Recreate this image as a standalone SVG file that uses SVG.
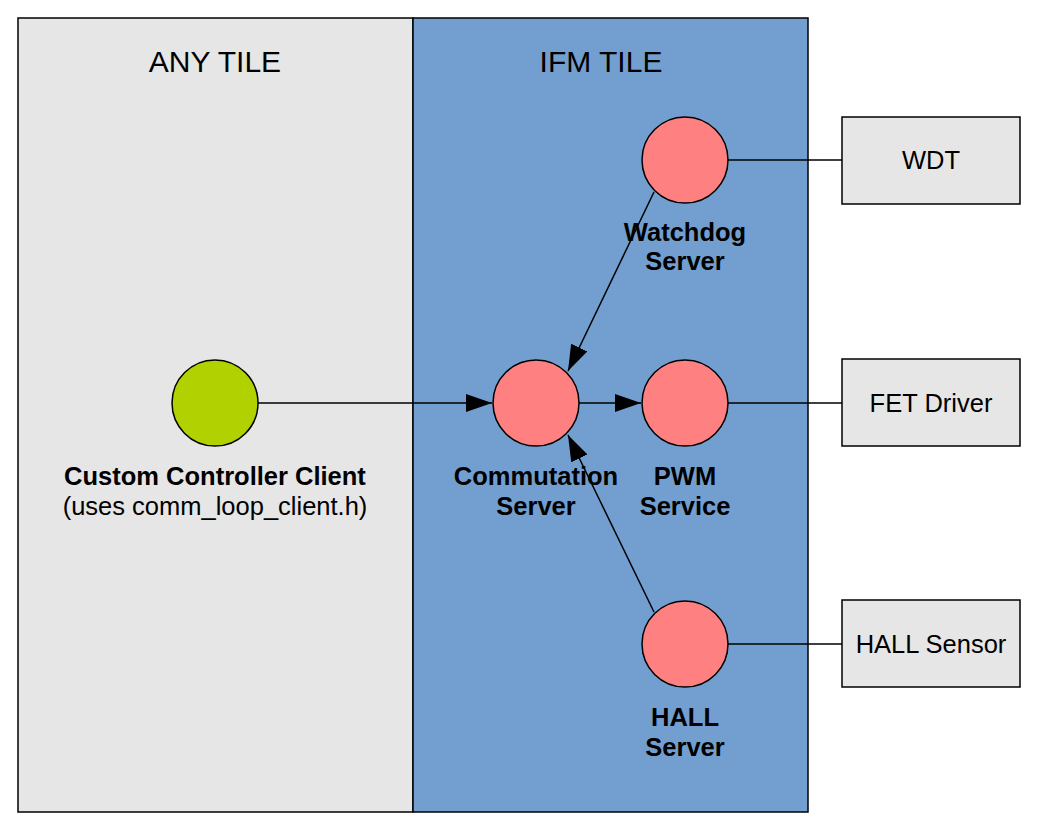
<svg xmlns="http://www.w3.org/2000/svg" width="1038" height="831" viewBox="0 0 1038 831">
<style>
.panel{stroke:#000;stroke-width:1.5}
.node{fill:#ff8080;stroke:#000;stroke-width:1.5}
.box{fill:#e6e6e6;stroke:#000;stroke-width:1.5}
.lbl{font-family:"Liberation Sans",Arial,sans-serif;font-size:25.5px;font-weight:bold;text-anchor:middle;fill:#000}
.txt{font-family:"Liberation Sans",Arial,sans-serif;font-size:25.5px;text-anchor:middle;fill:#000}
.title{font-family:"Liberation Sans",Arial,sans-serif;font-size:30px;text-anchor:middle;fill:#000}
.conn{stroke:#000;stroke-width:1.5;fill:none}
</style>
<defs>
<marker id="arrow" viewBox="0 0 26 18" refX="26" refY="9" markerWidth="26" markerHeight="18" markerUnits="userSpaceOnUse" orient="auto">
<path d="M0,0 L26,9 L0,18 z" fill="#000"/>
</marker>
</defs>
<rect width="1038" height="831" fill="#fff"/>
<g id="any-tile">
<rect class="panel" x="18" y="18" width="395" height="794" fill="#e6e6e6"/>
<text class="title" x="215" y="72">ANY TILE</text>
</g>
<g id="ifm-tile">
<rect class="panel" x="413" y="18" width="395" height="794" fill="#729fcf"/>
<text class="title" x="601" y="72">IFM TILE</text>
</g>
<g id="connectors">
<line class="conn" x1="258" y1="403" x2="492" y2="403" marker-end="url(#arrow)"/>
<line class="conn" x1="579" y1="403" x2="641" y2="403" marker-end="url(#arrow)"/>
<line class="conn" x1="654" y1="192" x2="568" y2="371" marker-end="url(#arrow)"/>
<line class="conn" x1="654" y1="612" x2="568" y2="435" marker-end="url(#arrow)"/>
<line class="conn" x1="728" y1="160" x2="842" y2="160"/>
<line class="conn" x1="728" y1="403" x2="842" y2="403"/>
<line class="conn" x1="728" y1="644" x2="842" y2="644"/>
</g>
<g id="client">
<circle cx="215" cy="403" r="43" fill="#b2d100" stroke="#000" stroke-width="1.5"/>
<text class="lbl" x="215" y="485">Custom Controller Client</text>
<text class="txt" x="215" y="515">(uses comm_loop_client.h)</text>
</g>
<g id="commutation">
<circle class="node" cx="536" cy="403" r="43"/>
<text class="lbl" x="536" y="485">Commutation</text>
<text class="lbl" x="536" y="515">Server</text>
</g>
<g id="watchdog">
<circle class="node" cx="685" cy="160" r="43"/>
<text class="lbl" x="685" y="241">Watchdog</text>
<text class="lbl" x="685" y="270">Server</text>
</g>
<g id="pwm">
<circle class="node" cx="685" cy="403" r="43"/>
<text class="lbl" x="685" y="485">PWM</text>
<text class="lbl" x="685" y="515">Service</text>
</g>
<g id="hall">
<circle class="node" cx="685" cy="644" r="43"/>
<text class="lbl" x="685" y="726">HALL</text>
<text class="lbl" x="685" y="756">Server</text>
</g>
<g id="wdt">
<rect class="box" x="842" y="117" width="178" height="87"/>
<text class="txt" x="931" y="169">WDT</text>
</g>
<g id="fet">
<rect class="box" x="842" y="359" width="178" height="87"/>
<text class="txt" x="931" y="412">FET Driver</text>
</g>
<g id="hall-sensor">
<rect class="box" x="842" y="600" width="178" height="87"/>
<text class="txt" x="931" y="653">HALL Sensor</text>
</g>
</svg>
